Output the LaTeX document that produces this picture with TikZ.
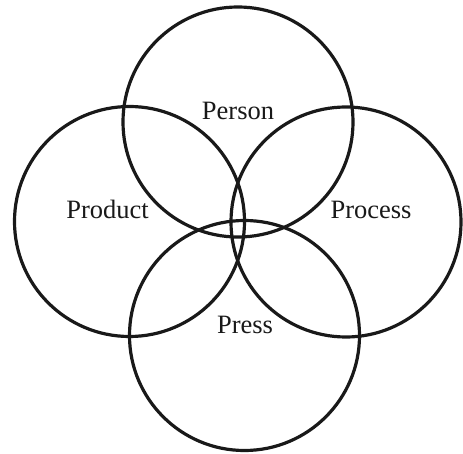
\documentclass[tikz,border=0pt]{standalone}
\usepackage{fontspec}
\setmainfont{Liberation Serif}
\usetikzlibrary{positioning}
\tikzset{
  ring/.style={draw=black!90, circle, line width=3.2pt, minimum size=230pt, inner sep=0pt},
  ringlabel/.style={anchor=base, font=\fontsize{26.5}{29}\selectfont, text=black!90}
}
\begin{document}
\begin{tikzpicture}[x=1pt, y=-1pt]
    \useasboundingbox (0,0) rectangle (463,454);
    % Bốn vòng tròn
    \node (person) [ring] at (238,122) {};
    \node (product) [ring] at (129.5,221.5) {};
    \node (process) [ring] at (346,222) {};
    \node (press) [ring] at (244.5,335.5) {};
    % Nhãn
    \node (lperson) [ringlabel] at (238,120) {Person};
    \node (lproduct) [ringlabel] at (107.5,219) {Product};
    \node (lprocess) [ringlabel] at (371,219) {Process};
    \node (lpress) [ringlabel] at (245,333) {Press};
\end{tikzpicture}
\end{document}
